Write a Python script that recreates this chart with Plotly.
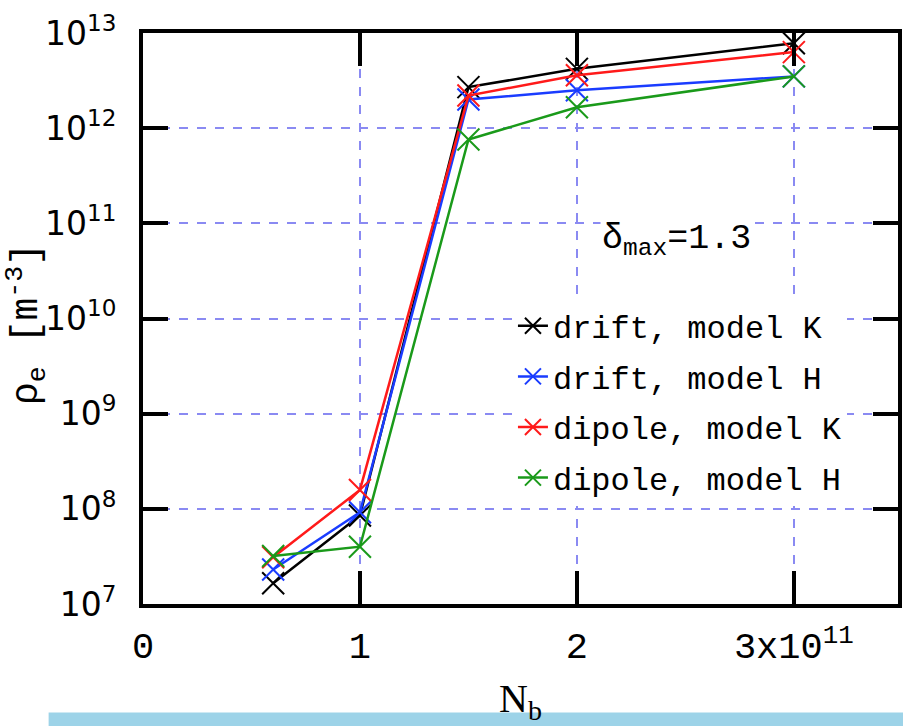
import plotly.graph_objects as go

# ---- data ----
nb = [0.6e11, 1.0e11, 1.5e11, 2.0e11, 3.0e11]
drift_K = [1.65e7, 8.5e7, 2.7e12, 4.2e12, 7.8e12]
drift_H = [2.3e7, 9.2e7, 2.0e12, 2.5e12, 3.5e12]
dipole_K = [3.1e7, 1.58e8, 2.2e12, 3.6e12, 6.3e12]
dipole_H = [3.2e7, 4.0e7, 7.6e11, 1.66e12, 3.5e12]

series_names = ["drift, model K", "drift, model H", "dipole, model K", "dipole, model H"]
series_vals = [drift_K, drift_H, dipole_K, dipole_H]
series_colors = ["#000000", "#1a3cff", "#ff1a1a", "#1a9a1a"]

x_tickvals = [0, 1e11, 2e11, 3e11]
x_ticktext = ["0", "1", "2", "3x10<sup>11</sup>"]
y_tickvals = [1e7, 1e8, 1e9, 1e10, 1e11, 1e12, 1e13]
y_ticktext = ["10<sup>7</sup>", "10<sup>8</sup>", "10<sup>9</sup>", "10<sup>10</sup>",
              "10<sup>11</sup>", "10<sup>12</sup>", "10<sup>13</sup>"]

fig = go.Figure()
for i, (name, vals, col) in enumerate(zip(series_names, series_vals, series_colors)):
    fig.add_trace(go.Scatter(
        x=nb, y=vals, name=name, mode="lines+markers",
        legendgroup=f"g{i}",
        line=dict(color=col, width=2.5),
        marker=dict(symbol="x-thin", size=22, line=dict(color=col, width=2)),
    ))

grid_col = "#8a8af2"
fig.update_layout(
    width=903, height=726,
    margin=dict(l=143, r=1, t=33, b=122),
    paper_bgcolor="white", plot_bgcolor="white",
    showlegend=True,
    legend=dict(
        x=0.49, y=0.535, xanchor="left", yanchor="top",
        bgcolor="white", borderwidth=0,
        font=dict(family="Liberation Mono", size=32, color="black"),
        tracegroupgap=6,
    ),
    xaxis=dict(
        range=[0, 3.48e11],
        tickvals=x_tickvals, ticktext=x_ticktext,
        showline=True, linecolor="black", linewidth=4, mirror="allticks",
        ticks="inside", ticklen=33, tickwidth=4, tickcolor="black",
        showgrid=True, gridcolor=grid_col, gridwidth=2, griddash="dash",
        zeroline=False,
        tickfont=dict(family="Liberation Mono", size=37, color="black"),
        ticklabelstandoff=6,
        title=dict(text="N<sub>b</sub>", font=dict(family="Liberation Serif", size=40, color="black"),
                   standoff=22),
    ),
    yaxis=dict(
        type="log", range=[7, 13],
        tickvals=y_tickvals, ticktext=y_ticktext,
        showline=True, linecolor="black", linewidth=4, mirror="allticks",
        ticks="inside", ticklen=25, tickwidth=4, tickcolor="black",
        showgrid=True, gridcolor=grid_col, gridwidth=2, griddash="dash",
        zeroline=False,
        tickfont=dict(family="DejaVu Sans", size=33, color="black"),
        ticklabelstandoff=16,
    ),
)

# y-axis title as rotated text
fig.add_annotation(
    xref="paper", yref="paper", x=-0.154, y=0.49, xanchor="center", yanchor="middle",
    text="ρ<sub>e</sub> [m<sup>-3</sup>]", textangle=-90, showarrow=False,
    font=dict(family="Liberation Mono", size=38, color="black"),
)

# delta_max label
fig.add_annotation(
    xref="paper", yref="paper", x=0.706, y=0.636, xanchor="center", yanchor="middle",
    text="δ<sub>max</sub>=1.3", showarrow=False, bgcolor="white",
    font=dict(family="Liberation Mono", size=35, color="black"),
)

# light blue band at the bottom of the page
fig.add_shape(
    type="rect", xref="paper", yref="paper",
    x0=-0.125, x1=1.01, y0=-0.215, y1=-0.19,
    fillcolor="#9dd3e8", line=dict(width=0), layer="below",
)

fig.write_html("out.html")
